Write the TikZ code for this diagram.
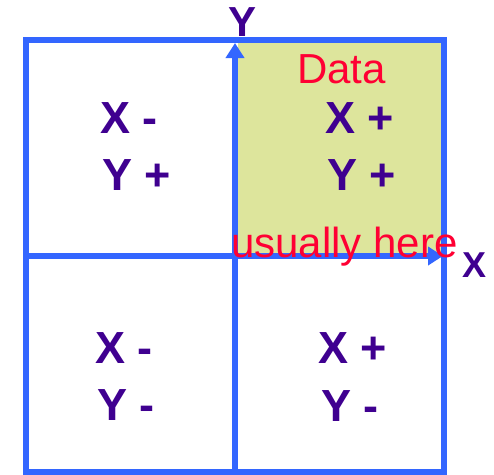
\documentclass[tikz,border=0pt]{standalone}
\usepackage{fontspec}
\setmainfont{Liberation Sans}
\usetikzlibrary{arrows.meta}
\definecolor{axisblue}{HTML}{3366FF}
\definecolor{txtpurple}{HTML}{3F0090}
\definecolor{datared}{HTML}{FF0033}
\definecolor{quadgreen}{HTML}{DDE59C}
\begin{document}
\begin{tikzpicture}[x=1pt,y=-1pt,
  quad/.style={anchor=base west,inner sep=0pt,text=txtpurple,font=\fontsize{45}{54}\selectfont\bfseries},
  note/.style={anchor=base west,inner sep=0pt,text=datared,font=\fontsize{42}{50}\selectfont},
  axislbl/.style={anchor=base west,inner sep=0pt,text=txtpurple,font=\bfseries},
  frame/.style={draw=axisblue,line width=6pt},
  axis/.style={draw=axisblue,line width=6pt,-{Triangle[length=15pt,width=18pt]}}]
\useasboundingbox (0,0) rectangle (494,474);
\fill[quadgreen] (238,43) rectangle (441,253);
\draw[frame] (26,40) rectangle (444,472);
\coordinate (xs) at (26,256);
\coordinate (xe) at (443,256);
\coordinate (ys) at (235,472);
\coordinate (ye) at (235,43);
\draw[axis] (xs) -- (xe);
\draw[axis] (ys) -- (ye);
\node[axislbl,font=\fontsize{42}{50}\selectfont\bfseries] (ylab) at (228,36) {Y};
\node[axislbl,font=\fontsize{36}{42}\selectfont\bfseries] (xlab) at (462,277) {X};
\node[quad] (q2x) at (100,133) {X -};
\node[quad] (q2y) at (102,190) {Y +};
\node[note] (data) at (297,83) {Data};
\node[quad] (q1x) at (325,133) {X +};
\node[quad] (q1y) at (327,190) {Y +};
\node[quad] (q3x) at (95,363) {X -};
\node[quad] (q3y) at (97,420) {Y -};
\node[quad] (q4x) at (318,363) {X +};
\node[quad] (q4y) at (321,421) {Y -};
\node[note] (usual) at (231,257) {usually here};
\end{tikzpicture}
\end{document}
